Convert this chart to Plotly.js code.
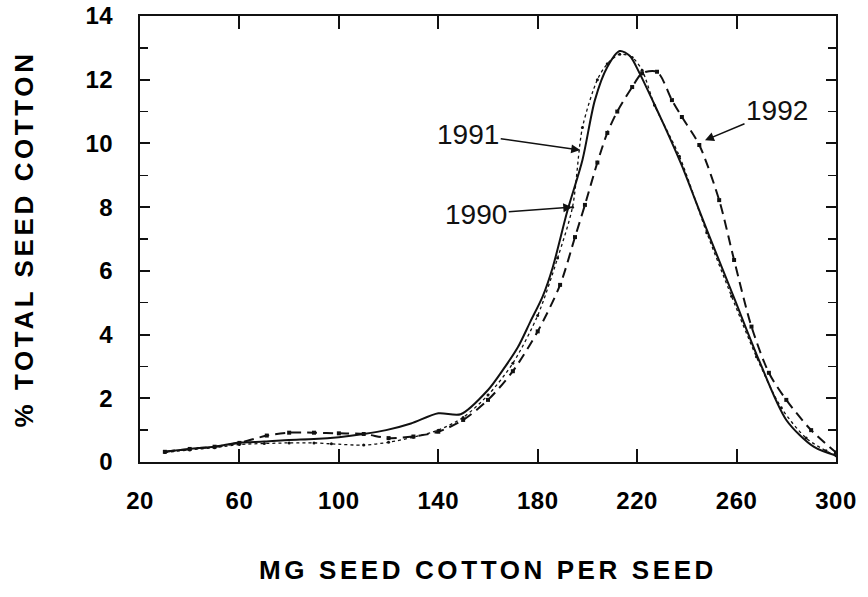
<!DOCTYPE html>
<html>
<head>
<meta charset="utf-8">
<script src="https://cdn.plot.ly/plotly-3.0.1.min.js"></script>
<style>
  html, body { margin: 0; padding: 0; background: #fff; }
  #chart { width: 868px; height: 597px; }
  text.xtitle, text.ytitle { letter-spacing: 3.6px; }
  .xtick text, .ytick text { letter-spacing: 0.5px; }
</style>
</head>
<body>
<div id="chart"></div>
<script>
// ---- data ----
const seriesNames = ["1990", "1991", "1992"];

const x1991 = [30, 40, 50, 60, 70, 80, 90, 100, 110, 119, 129, 140, 149, 160, 166, 172, 177, 182, 186, 192, 198, 203, 208, 213, 217, 221, 228, 233, 238, 243, 249, 259, 269, 280, 291, 300];
const y1991 = [0.32, 0.41, 0.48, 0.61, 0.64, 0.69, 0.72, 0.78, 0.88, 1.0, 1.21, 1.53, 1.5, 2.26, 2.89, 3.6, 4.4, 5.2, 6.1, 7.9, 9.48, 11.36, 12.4, 12.9, 12.75, 12.2, 11.05, 10.2, 9.3, 8.3, 7.1, 5.15, 3.2, 1.32, 0.48, 0.2];

const x1992 = [30, 40, 50, 60, 71, 80, 90, 100, 110, 120, 130, 140, 150, 160, 170, 180, 189, 195, 199, 204, 208, 212, 218, 222, 228, 234, 238, 245, 253, 259, 266, 273, 280, 290, 300];
const y1992 = [0.32, 0.41, 0.48, 0.6, 0.83, 0.92, 0.92, 0.9, 0.88, 0.75, 0.8, 0.95, 1.32, 1.95, 2.85, 4.1, 5.56, 7.06, 8.07, 9.4, 10.33, 11.0, 11.77, 12.2, 12.25, 11.36, 10.83, 9.95, 8.22, 6.34, 4.25, 2.8, 1.95, 1.0, 0.3];

const x1990 = [30, 40, 50, 60, 70, 80, 90, 97, 110, 120, 130, 140, 150, 160, 170, 180, 188, 194, 198, 204, 208, 213, 218, 222, 227, 237, 248, 258, 268, 278, 288, 296, 300];
const y1990 = [0.3, 0.38, 0.45, 0.55, 0.58, 0.6, 0.6, 0.57, 0.53, 0.62, 0.78, 1.0, 1.4, 2.1, 3.1, 4.6, 6.4, 8.0, 10.5, 12.0, 12.5, 12.8, 12.7, 12.3, 11.2, 9.6, 7.2, 5.2, 3.3, 1.7, 0.75, 0.35, 0.2];

const xTickVals = [20, 60, 100, 140, 180, 220, 260, 300];
const yTickVals = [0, 2, 4, 6, 8, 10, 12, 14];

const xTitle = "MG SEED COTTON PER SEED";
const yTitle = "% TOTAL SEED COTTON";

// label anchors (data coords of arrow tips)
const labelTips = [
  {text: "1991", x: 197.1, y: 9.79, ax: -112, ay: -16},
  {text: "1990", x: 193.9, y: 8.0, ax: -96, ay: 7},
  {text: "1992", x: 247.3, y: 10.1, ax: 72, ay: -30}
];

const BOLD = "Liberation Sans, Arial, sans-serif";

const traces = [
  {
    name: seriesNames[0], x: x1990, y: y1990, type: "scatter", mode: "lines+markers",
    line: {color: "#111", width: 1.3, dash: "dot", shape: "spline", smoothing: 0.8},
    marker: {color: "#111", size: 3, symbol: "circle"}
  },
  {
    name: seriesNames[1], x: x1991, y: y1991, type: "scatter", mode: "lines",
    line: {color: "#111", width: 2, dash: "solid", shape: "spline", smoothing: 0.8}
  },
  {
    name: seriesNames[2], x: x1992, y: y1992, type: "scatter", mode: "lines+markers",
    line: {color: "#111", width: 2, dash: "10px,6px", shape: "spline", smoothing: 0.8},
    marker: {color: "#111", size: 4, symbol: "square"}
  }
];

const layout = {
  width: 868, height: 597,
  margin: {l: 140, r: 32, t: 16, b: 135},
  paper_bgcolor: "#fff", plot_bgcolor: "#fff",
  showlegend: false,
  xaxis: {
    range: [20, 300], tickvals: xTickVals, ticktext: xTickVals.map(String),
    ticks: "inside", ticklen: 13, tickwidth: 2, tickcolor: "#111",
    showline: true, linewidth: 2, linecolor: "#111", mirror: "ticks",
    showgrid: false, zeroline: false,
    ticklabelstandoff: 16,
    tickfont: {family: BOLD, size: 24, color: "#000", weight: 700},
    title: {text: xTitle, standoff: 48, font: {family: BOLD, size: 26, color: "#000", weight: 700}},
    automargin: false
  },
  yaxis: {
    range: [0, 14], tickvals: yTickVals, ticktext: yTickVals.map(String),
    ticks: "inside", ticklen: 10, tickwidth: 2, tickcolor: "#111",
    minor: {dtick: 1, ticks: "inside", ticklen: 8, tickwidth: 1.5, tickcolor: "#111"},
    showline: true, linewidth: 2, linecolor: "#111", mirror: "ticks",
    showgrid: false, zeroline: false,
    ticklabelstandoff: 20,
    tickfont: {family: BOLD, size: 24, color: "#000", weight: 700},
    title: {text: yTitle, standoff: 44, font: {family: BOLD, size: 26, color: "#000", weight: 700}},
    automargin: false
  },
  annotations: labelTips.map(a => ({
    x: a.x, y: a.y, xref: "x", yref: "y", text: a.text,
    showarrow: true, ax: a.ax, ay: a.ay, arrowhead: 2, arrowsize: 1.2, arrowwidth: 1.5,
    arrowcolor: "#111", standoff: 0,
    font: {family: "Liberation Sans, Arial, sans-serif", size: 28, color: "#111"}
  }))
};

Plotly.newPlot("chart", traces, layout, {staticPlot: true, displayModeBar: false});
</script>
</body>
</html>
